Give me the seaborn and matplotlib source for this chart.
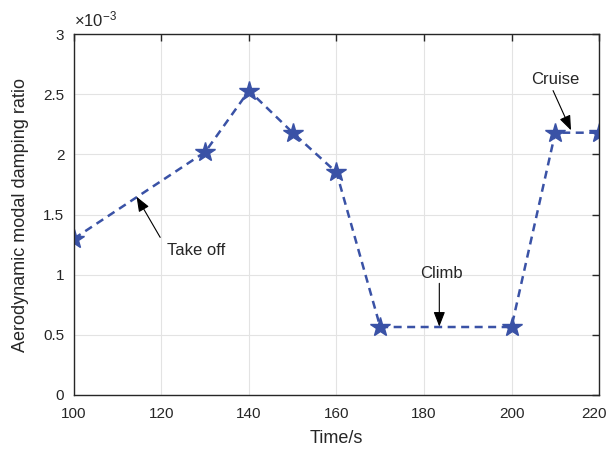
import matplotlib
matplotlib.use("Agg")
import matplotlib.pyplot as plt
import matplotlib.transforms as mtransforms
import seaborn as sns
import pandas as pd
from matplotlib.ticker import FuncFormatter

time_s = [100, 130, 140, 150, 160, 170, 200, 210, 220]
damping = [1.30e-3, 2.02e-3, 2.53e-3, 2.18e-3, 1.85e-3, 0.565e-3, 0.565e-3, 2.18e-3, 2.18e-3]
x_ticks = [100, 120, 140, 160, 180, 200, 220]
y_ticks = [0, 0.5e-3, 1e-3, 1.5e-3, 2e-3, 2.5e-3, 3e-3]

sns.set_style("white")
plt.rcParams['font.family'] = ['Liberation Sans', 'DejaVu Sans']
plt.rcParams['mathtext.fontset'] = 'custom'
plt.rcParams['mathtext.rm'] = 'Liberation Sans'
plt.rcParams['mathtext.it'] = 'Liberation Sans'

df = pd.DataFrame({"Time/s": time_s, "damping": damping})

fig = plt.figure(figsize=(6.08, 4.54), dpi=100)
ax = fig.add_axes([0.1217, 0.130, 0.8635, 0.795])
color = "#3A52A6"
sns.lineplot(data=df, x="Time/s", y="damping", ax=ax, color=color,
             linestyle=(0, (3.2, 2.2)), linewidth=1.8, marker="*", markersize=15,
             markerfacecolor=color, markeredgecolor=color, markeredgewidth=1.0)

ax.set_xlim(100, 220)
ax.set_ylim(0, 3e-3)
ax.set_xticks(x_ticks)
ax.set_yticks(y_ticks)
ax.yaxis.set_major_formatter(FuncFormatter(lambda v, p: "%g" % round(v * 1e3, 3)))
ax.grid(True, color="#e3e3e3", linewidth=0.8)
ax.set_axisbelow(True)
for s in ax.spines.values():
    s.set_color("#262626")
    s.set_linewidth(1.0)
ax.tick_params(direction="in", top=True, right=True, length=5, width=1.0,
               labelsize=11, colors="#262626")
ax.tick_params(axis="x", pad=9)
ax.tick_params(axis="y", pad=7)
ax.set_xlabel("Time/s", fontsize=13, color="#262626", labelpad=6)
ax.set_ylabel("Aerodynamic modal damping ratio", fontsize=13, color="#262626", labelpad=10)
ax.text(0.0, 1.012, r"$\times10^{-3}$", transform=ax.transAxes, fontsize=12,
        color="#262626", ha="left", va="bottom")

# keep the last x tick label inside the figure
last = ax.get_xticklabels()[-1]
last.set_transform(last.get_transform() + mtransforms.ScaledTranslation(-0.05, 0, fig.dpi_scale_trans))

arrow = dict(arrowstyle="-|>,head_length=0.9,head_width=0.35", color="black",
             linewidth=0.8, shrinkA=0, shrinkB=0)
ax.annotate("", xy=(114.3, 1.648e-3), xytext=(119.7, 1.31e-3), arrowprops=arrow)
ax.text(128.0, 1.205e-3, "Take off", fontsize=12, ha="center", va="center", color="#262626")
ax.annotate("", xy=(183.5, 0.568e-3), xytext=(183.5, 0.928e-3), arrowprops=arrow)
ax.text(183.9, 1.01e-3, "Climb", fontsize=12, ha="center", va="center", color="#262626")
ax.annotate("", xy=(213.6, 2.20e-3), xytext=(209.5, 2.53e-3), arrowprops=arrow)
ax.text(209.9, 2.62e-3, "Cruise", fontsize=12, ha="center", va="center", color="#262626")

fig.savefig("out.png", dpi=100)
